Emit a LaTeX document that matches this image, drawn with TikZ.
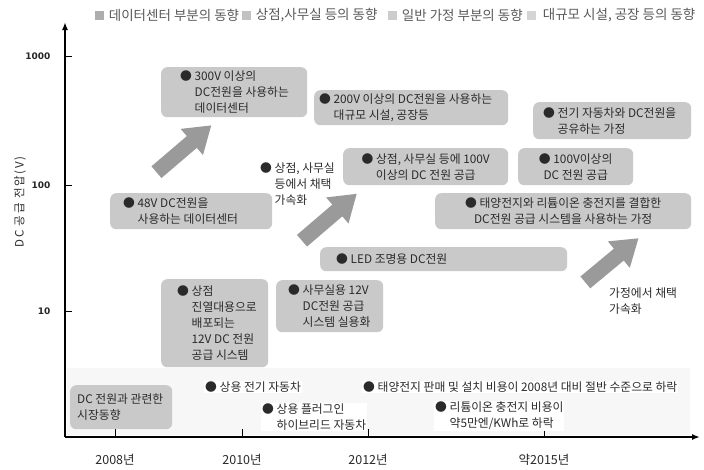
\documentclass[tikz,border=0pt]{standalone}
\usepackage{fontspec}
\setmainfont{Noto Sans CJK KR}
\newfontfamily\tickfont{DejaVu Sans}
\newfontfamily\vlabelfont{Noto Sans CJK KR}[LetterSpace=15]
\usetikzlibrary{positioning}
\usetikzlibrary{arrows.meta}
\usetikzlibrary{shapes.arrows}
\tikzset{>={Latex[width=6pt,length=8pt]}}
\definecolor{boxgray}{HTML}{C9C9C9}
\definecolor{arrowgray}{HTML}{9A9A9A}
\definecolor{inkgray}{HTML}{2A2A2A}
\definecolor{bandgray}{HTML}{F7F7F7}
\newcommand{\dotmark}{●\ }
\newcommand{\dotgap}{\hphantom{●\ }}
\tikzset{
  trend/.style={fill=boxgray, rounded corners=6pt, anchor=north west, inner sep=0pt},
  note/.style={text=inkgray, font=\fontsize{11.8}{16}\selectfont, align=left, inner sep=0pt},
  fatarrow/.style={single arrow, fill=arrowgray, inner xsep=0pt, inner ysep=7.5pt,
    single arrow head extend=9.5pt, single arrow tip angle=68, minimum height=72pt},
  legsq/.style={minimum size=9pt, inner sep=0pt},
  legtext/.style={text=black!65, font=\fontsize{13.5}{15}\selectfont, inner sep=0pt},
  axis/.style={line width=1.6pt},
  tick/.style={line width=0.8pt},
  ticklabel/.style={font=\tickfont\bfseries\fontsize{9}{10}\selectfont, text=black!85, anchor=east},
  yearlabel/.style={font=\fontsize{12.5}{14}\selectfont, text=inkgray}
}

\begin{document}
\begin{tikzpicture}[x=1pt, y=-1pt]
\useasboundingbox (0,0) rectangle (704,469);
% legend
\node (lg1) [legsq, fill=black!32] at (99,15) {};
\node (lg1t) [legtext, right=5pt of lg1] {데이터센터 부분의 동향};
\node (lg2) [legsq, fill=black!24] at (246,15) {};
\node (lg2t) [legtext, right=5pt of lg2] {상점,사무실 등의 동향};
\node (lg3) [legsq, fill=black!20] at (392,15) {};
\node (lg3t) [legtext, right=5pt of lg3] {일반 가정 부분의 동향};
\node (lg4) [legsq, fill=black!17] at (531,15) {};
\node (lg4t) [legtext, right=7pt of lg4] {대규모 시설, 공장 등의 동향};

% faint band behind the market events
\fill [bandgray] (67,368) rectangle (690,435);

% axes
\coordinate (o) at (65,437);
\coordinate (ytop) at (65,22);
\coordinate (xend) at (700,437);
\draw [axis, ->] (o) -- (ytop);
\draw [axis, ->] (o) -- (xend);
\foreach \y/\v in {56/1000, 185/100, 311/10} {
  \draw [tick] (65,\y) -- (72,\y);
  \node [ticklabel] at (54,\y) {\v};
}
\foreach \x/\yr in {115/2008년, 242/2010년, 368/2012년, 544/약2015년} {
  \draw [tick] (\x,437) -- (\x,429);
  \node [yearlabel] at (\x,460) {\yr};
}
\node (vlab) [rotate=90, text=inkgray, font=\vlabelfont\fontsize{11.5}{13}\selectfont] at (20,202) {DC 공급 전압(V)};

% trend boxes
\node (dc300) [trend, minimum width=146pt, minimum height=50pt] at (161,67) {};
\node (dc300t) [note, anchor=west] at ([xshift=19pt]dc300.west) {\dotmark 300V 이상의\\\dotgap DC전원을 사용하는\\\dotgap 데이터센터};
\node (dc200) [trend, minimum width=194pt, minimum height=35pt] at (314,90) {};
\node (dc200t) [note, anchor=west] at ([xshift=5pt]dc200.west) {\dotmark 200V 이상의 DC전원을 사용하는\\\dotgap 대규모 시설, 공장등};
\node (evhome) [trend, minimum width=158pt, minimum height=37pt] at (533,102) {};
\node (evhomet) [note, anchor=west] at ([xshift=10pt]evhome.west) {\dotmark 전기 자동차와 DC전원을\\\dotgap 공유하는 가정};
\node (shop100) [trend, minimum width=165pt, minimum height=37pt] at (343,148) {};
\node (shop100t) [note, align=center] at (shop100.center) {\dotmark 상점, 사무실 등에 100V\\이상의 DC 전원 공급};
\node (home100) [trend, minimum width=115pt, minimum height=37pt] at (518,148) {};
\node (home100t) [note, align=center] at (home100.center) {\dotmark 100V이상의\\DC 전원 공급};
\node (dc48) [trend, minimum width=162pt, minimum height=36pt] at (110,193) {};
\node (dc48t) [note, anchor=west] at ([xshift=13pt]dc48.west) {\dotmark 48V DC전원을\\\dotgap 사용하는 데이터센터};
\node (solar) [trend, minimum width=256pt, minimum height=36pt] at (435,193) {};
\node (solart) [note, align=center] at (solar.center) {\dotmark 태양전지와 리튬이온 충전지를 결합한\\DC전원 공급 시스템을 사용하는 가정};
\node (led) [trend, minimum width=247pt, minimum height=24pt] at (320,247) {};
\node (ledt) [note, anchor=west] at ([xshift=16pt]led.west) {\dotmark LED 조명용 DC전원};
\node (shop12) [trend, minimum width=107pt, minimum height=88pt] at (161,279) {};
\node (shop12t) [note, anchor=west] at ([xshift=16pt]shop12.west) {\dotmark 상점\\\dotgap 진열대용으로\\\dotgap 배포되는\\\dotgap 12V DC 전원\\\dotgap 공급 시스템};
\node (office12) [trend, minimum width=107pt, minimum height=52pt] at (276,280) {};
\node (office12t) [note, anchor=west] at ([xshift=12pt]office12.west) {\dotmark 사무실용 12V\\\dotgap DC전원 공급\\\dotgap 시스템 실용화};
\node (market) [trend, minimum width=102pt, minimum height=44pt] at (70,385) {};
\node (markett) [note, anchor=west] at ([xshift=7pt]market.west) {DC 전원과 관련한\\시장동향};

% free notes
\node (shopacc) [note, anchor=west] at (260,184) {\dotmark 상점, 사무실\\\dotgap 등에서 채택\\\dotgap 가속화};
\node (homeacc) [note, anchor=west] at (609,301) {가정에서 채택\\가속화};
\node (ev) [note, anchor=west, fill=white, inner sep=1pt] at (204,387) {\dotmark 상용 전기 자동차};
\node (phev) [note, anchor=west, fill=white, inner sep=1pt] at (261,417) {\dotmark 상용 플러그인\\\dotgap 하이브리드 자동차};
\node (solarcost) [note, anchor=west, fill=white, inner sep=1pt] at (362,387) {\dotmark 태양전지 판매 및 설치 비용이 2008년 대비 절반 수준으로 하락};
\node (licost) [note, anchor=west, fill=white, inner sep=1pt] at (434,416) {\dotmark 리튬이온 충전지 비용이\\\dotgap 약5만엔/KWh로 하락};

% growth arrows
\node (up1) [fatarrow, rotate=40.5] at (179.5,152.5) {};
\node (up2) [fatarrow, rotate=40.6] at (325,221) {};
\node (up3) [fatarrow, rotate=39.7, minimum height=69pt] at (607.5,264) {};
\end{tikzpicture}
\end{document}
